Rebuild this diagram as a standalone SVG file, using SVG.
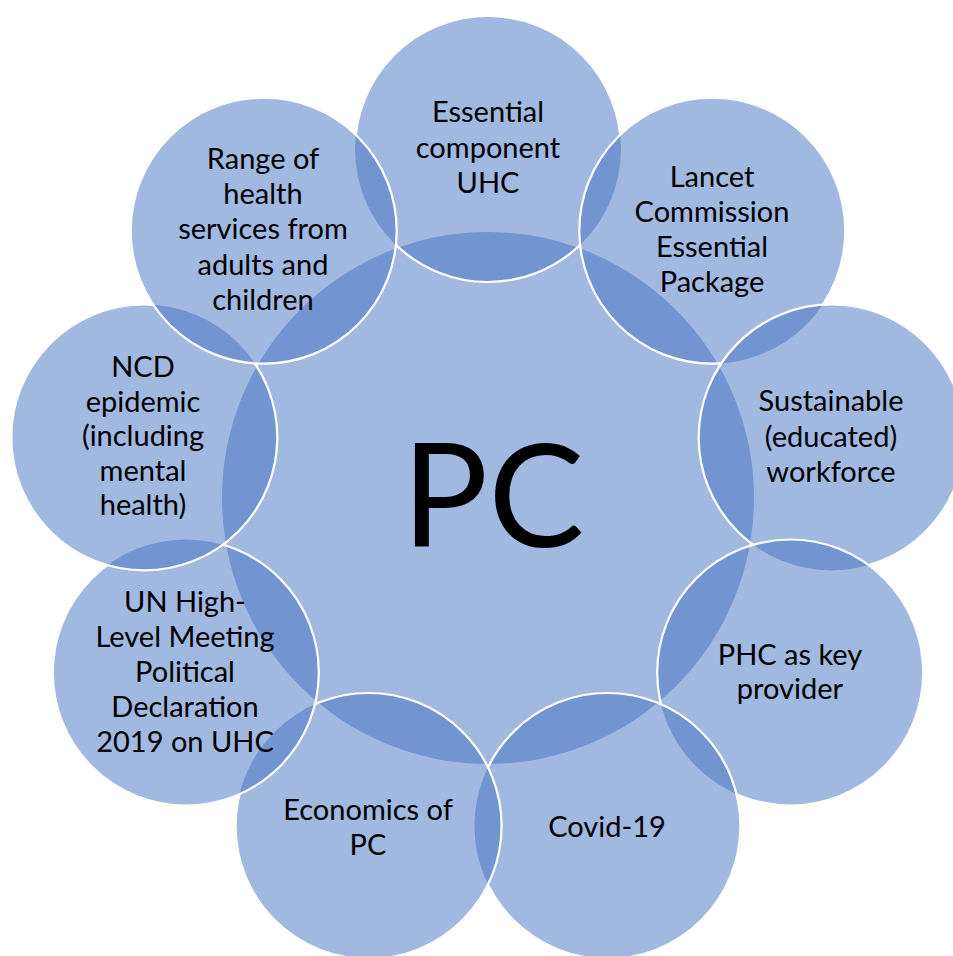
<svg xmlns="http://www.w3.org/2000/svg" width="953" height="956" viewBox="0 0 953 956">
<style>
.f{fill:#4472C4;fill-opacity:0.5;stroke:none}
.s{fill:none;stroke:#FFFFFF;stroke-width:2.2}
.t{font-family:Lato,"Open Sans",sans-serif;font-size:29px;fill:#000;text-anchor:middle}
.pc{font-family:Lato,"Open Sans",sans-serif;font-size:144px;fill:#000;text-anchor:middle}
</style>
<defs>
<circle id="c1" cx="488" cy="149" r="133"/>
<circle id="c2" cx="712.3" cy="230.7" r="133"/>
<circle id="c3" cx="831.7" cy="437.4" r="133"/>
<circle id="c4" cx="790.2" cy="672.5" r="133"/>
<circle id="c5" cx="607.4" cy="826" r="133"/>
<circle id="c6" cx="368.6" cy="826" r="133"/>
<circle id="c7" cx="185.8" cy="672.5" r="133"/>
<circle id="c8" cx="144.3" cy="437.4" r="133"/>
<circle id="c9" cx="263.7" cy="230.7" r="133"/>
<mask id="m1" maskUnits="userSpaceOnUse" x="0" y="0" width="953" height="956"><rect width="953" height="956" fill="#fff"/><g fill="#000"><use href="#c2"/><use href="#c3"/><use href="#c4"/><use href="#c5"/><use href="#c6"/><use href="#c7"/><use href="#c8"/><use href="#c9"/></g></mask>
<mask id="m2" maskUnits="userSpaceOnUse" x="0" y="0" width="953" height="956"><rect width="953" height="956" fill="#fff"/><g fill="#000"><use href="#c3"/><use href="#c4"/><use href="#c5"/><use href="#c6"/><use href="#c7"/><use href="#c8"/><use href="#c9"/></g></mask>
<mask id="m3" maskUnits="userSpaceOnUse" x="0" y="0" width="953" height="956"><rect width="953" height="956" fill="#fff"/><g fill="#000"><use href="#c4"/><use href="#c5"/><use href="#c6"/><use href="#c7"/><use href="#c8"/><use href="#c9"/></g></mask>
<mask id="m4" maskUnits="userSpaceOnUse" x="0" y="0" width="953" height="956"><rect width="953" height="956" fill="#fff"/><g fill="#000"><use href="#c5"/><use href="#c6"/><use href="#c7"/><use href="#c8"/><use href="#c9"/></g></mask>
<mask id="m5" maskUnits="userSpaceOnUse" x="0" y="0" width="953" height="956"><rect width="953" height="956" fill="#fff"/><g fill="#000"><use href="#c6"/><use href="#c7"/><use href="#c8"/><use href="#c9"/></g></mask>
<mask id="m6" maskUnits="userSpaceOnUse" x="0" y="0" width="953" height="956"><rect width="953" height="956" fill="#fff"/><g fill="#000"><use href="#c7"/><use href="#c8"/><use href="#c9"/></g></mask>
<mask id="m7" maskUnits="userSpaceOnUse" x="0" y="0" width="953" height="956"><rect width="953" height="956" fill="#fff"/><g fill="#000"><use href="#c8"/><use href="#c9"/></g></mask>
<mask id="m8" maskUnits="userSpaceOnUse" x="0" y="0" width="953" height="956"><rect width="953" height="956" fill="#fff"/><g fill="#000"><use href="#c9"/></g></mask>
</defs>
<rect width="953" height="956" fill="#FFFFFF"/>
<g id="connectors"></g>
<g id="center">
<circle class="f" cx="488" cy="498" r="266"/>
<text class="pc" x="493" y="547">PC</text>
</g>
<g id="n1">
<use href="#c1" class="f"/><use href="#c1" class="s" mask="url(#m1)"/>
<text class="t" x="488"><tspan x="488" y="122">Essential</tspan><tspan x="488" y="157.5">component</tspan><tspan x="488" y="193">UHC</tspan></text>
</g>
<g id="n2">
<use href="#c2" class="f"/><use href="#c2" class="s" mask="url(#m2)"/>
<text class="t"><tspan x="712" y="187">Lancet</tspan><tspan x="712" y="222">Commission</tspan><tspan x="712" y="257">Essential</tspan><tspan x="712" y="292">Package</tspan></text>
</g>
<g id="n3">
<use href="#c3" class="f"/><use href="#c3" class="s" mask="url(#m3)"/>
<text class="t"><tspan x="831" y="411">Sustainable</tspan><tspan x="831" y="446.5">(educated)</tspan><tspan x="831" y="482">workforce</tspan></text>
</g>
<g id="n4">
<use href="#c4" class="f"/><use href="#c4" class="s" mask="url(#m4)"/>
<text class="t"><tspan x="790" y="665">PHC as key</tspan><tspan x="790" y="698.5">provider</tspan></text>
</g>
<g id="n5">
<use href="#c5" class="f"/><use href="#c5" class="s" mask="url(#m5)"/>
<text class="t" x="607" y="837">Covid-19</text>
</g>
<g id="n6">
<use href="#c6" class="f"/><use href="#c6" class="s" mask="url(#m6)"/>
<text class="t"><tspan x="368" y="819.5">Economics of</tspan><tspan x="368" y="854.5">PC</tspan></text>
</g>
<g id="n7">
<use href="#c7" class="f"/><use href="#c7" class="s" mask="url(#m7)"/>
<text class="t"><tspan x="185" y="612">UN High-</tspan><tspan x="185" y="647">Level Meeting</tspan><tspan x="185" y="682">Political</tspan><tspan x="185" y="717">Declaration</tspan><tspan x="185" y="752">2019 on UHC</tspan></text>
</g>
<g id="n8">
<use href="#c8" class="f"/><use href="#c8" class="s" mask="url(#m8)"/>
<text class="t"><tspan x="143" y="377">NCD</tspan><tspan x="143" y="411.5">epidemic</tspan><tspan x="143" y="446">(including</tspan><tspan x="143" y="480.5">mental</tspan><tspan x="143" y="515">health)</tspan></text>
</g>
<g id="n9">
<use href="#c9" class="f"/><use href="#c9" class="s"/>
<text class="t"><tspan x="263" y="168.5">Range of</tspan><tspan x="263" y="203.5">health</tspan><tspan x="263" y="239">services from</tspan><tspan x="263" y="274.5">adults and</tspan><tspan x="263" y="309.5">children</tspan></text>
</g>
</svg>
